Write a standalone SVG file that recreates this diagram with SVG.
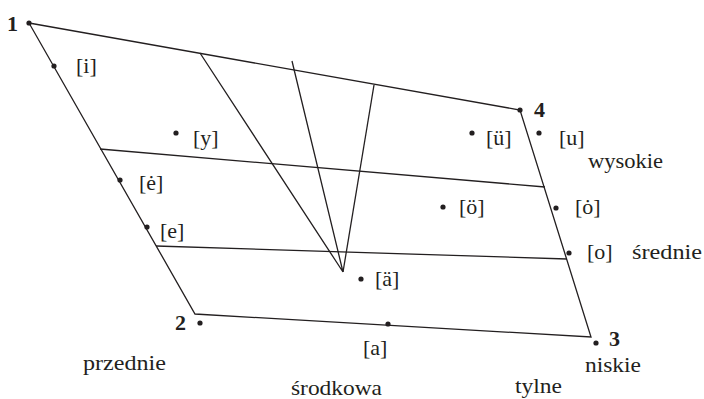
<svg xmlns="http://www.w3.org/2000/svg" width="704" height="399" viewBox="0 0 704 399">
<style>
.ln{fill:none;stroke:#231f20;stroke-width:1.3;stroke-linejoin:miter}
.dot{fill:#231f20}
text{font-family:"Liberation Serif","Times New Roman",serif;font-size:22px;fill:#231f20}
.num{font-weight:bold;font-size:22px}
.w{font-size:21.5px}
</style>
<rect width="704" height="399" fill="#ffffff"/>
<g id="connectors">
<path class="ln" d="M29,23 L520,110 L591,337 L195,314 Z"/>
<line class="ln" x1="100" y1="149" x2="545" y2="187"/>
<line class="ln" x1="156" y1="246" x2="567" y2="259"/>
<polyline class="ln" points="200,53 343,272 292,61"/>
<line class="ln" x1="374" y1="85" x2="343" y2="272"/>
</g>
<g id="p1"><circle class="dot" cx="29" cy="23" r="2.6"/><text class="num" x="7" y="31">1</text></g>
<g id="p4"><circle class="dot" cx="520" cy="110" r="2.6"/><text class="num" x="534" y="117">4</text></g>
<g id="p2"><circle class="dot" cx="200" cy="323" r="2.6"/><text class="num" x="175" y="330">2</text></g>
<g id="p3"><circle class="dot" cx="596" cy="343" r="2.6"/><text class="num" x="609" y="346">3</text></g>
<g id="v-i"><circle class="dot" cx="54" cy="66" r="2.6"/><text x="76" y="73">[i]</text></g>
<g id="v-y"><circle class="dot" cx="176" cy="133" r="2.6"/><text x="193" y="145">[y]</text></g>
<g id="v-ue"><circle class="dot" cx="472" cy="133" r="2.6"/><text x="486" y="145">[ü]</text></g>
<g id="v-u"><circle class="dot" cx="539" cy="133" r="2.6"/><text x="559" y="145">[u]</text></g>
<g id="v-edot"><circle class="dot" cx="120" cy="180" r="2.6"/><text x="139" y="190">[ė]</text></g>
<g id="v-oe"><circle class="dot" cx="443" cy="207" r="2.6"/><text x="459" y="214">[ö]</text></g>
<g id="v-odot"><circle class="dot" cx="556" cy="208" r="2.6"/><text x="575" y="214">[ȯ]</text></g>
<g id="v-e"><circle class="dot" cx="147" cy="227" r="2.6"/><text x="160" y="238">[e]</text></g>
<g id="v-o"><circle class="dot" cx="569" cy="253" r="2.6"/><text x="587" y="259">[o]</text></g>
<g id="v-ae"><circle class="dot" cx="361" cy="279" r="2.6"/><text x="375" y="286">[ä]</text></g>
<g id="v-a"><circle class="dot" cx="388" cy="324" r="2.6"/><text x="363" y="355">[a]</text></g>
<g id="labels">
<text class="w" x="588" y="168" textLength="75" lengthAdjust="spacingAndGlyphs">wysokie</text>
<text class="w" x="632" y="259" textLength="70" lengthAdjust="spacingAndGlyphs">średnie</text>
<text class="w" x="585" y="372" textLength="56" lengthAdjust="spacingAndGlyphs">niskie</text>
<text class="w" x="83" y="370" textLength="83" lengthAdjust="spacingAndGlyphs">przednie</text>
<text class="w" x="291" y="395" textLength="91" lengthAdjust="spacingAndGlyphs">środkowa</text>
<text class="w" x="515" y="393" textLength="47" lengthAdjust="spacingAndGlyphs">tylne</text>
</g>
</svg>
